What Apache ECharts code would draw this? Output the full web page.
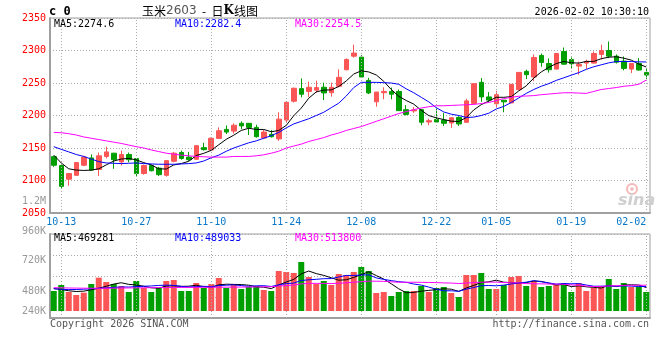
<!DOCTYPE html>
<html><head><meta charset="utf-8">
<script src="https://cdn.jsdelivr.net/npm/echarts@6/dist/echarts.min.js"></script>
<style>html,body{margin:0;padding:0;background:#fff}#c{width:660px;height:360px}</style>
</head><body><div id="c"></div>
<script>
// ---------- data ----------
const dates = ['2025-10-10','2025-10-13','2025-10-14','2025-10-15','2025-10-16','2025-10-17','2025-10-20','2025-10-21','2025-10-22','2025-10-23','2025-10-24','2025-10-27','2025-10-28','2025-10-29','2025-10-30','2025-10-31',
'2025-11-03','2025-11-04','2025-11-05','2025-11-06','2025-11-07','2025-11-10','2025-11-11','2025-11-12','2025-11-13','2025-11-14','2025-11-17','2025-11-18','2025-11-19','2025-11-20','2025-11-21','2025-11-24','2025-11-25','2025-11-26','2025-11-27','2025-11-28',
'2025-12-01','2025-12-02','2025-12-03','2025-12-04','2025-12-05','2025-12-08','2025-12-09','2025-12-10','2025-12-11','2025-12-12','2025-12-15','2025-12-16','2025-12-17','2025-12-18','2025-12-19','2025-12-22','2025-12-23','2025-12-24','2025-12-25','2025-12-26','2025-12-29','2025-12-30','2025-12-31',
'2026-01-05','2026-01-06','2026-01-07','2026-01-08','2026-01-09','2026-01-12','2026-01-13','2026-01-14','2026-01-15','2026-01-16','2026-01-19','2026-01-20','2026-01-21','2026-01-22','2026-01-23','2026-01-26','2026-01-27','2026-01-28','2026-01-29','2026-01-30','2026-02-02'];
const tickLabels = ['10-13','10-27','11-10','11-24','12-08','12-22','01-05','01-19','02-02'];

const openP = [2136.7,2123,2102,2108,2123.5,2134.7,2117,2137,2142,2128.6,
2140,2133.7,2110.7,2123,2119,2108,2129.6,2143,2136,2132.7,
2150.5,2147,2164.8,2178.6,2176,2188,2188,2181.7,2165.4,2171,
2164,2193,2222,2241.3,2237,2239,2243.4,2235,2245,2270.4,
2291.3,2289.8,2254,2221,2235,2237,2237,2209,2207,2209,
2190,2194,2192.9,2188.5,2197,2189.5,2218.6,2251,2228.6,2218,
2223.5,2219.4,2239.8,2267.9,2259.2,2292.4,2280,2271.4,2298.5,2286.2,
2276,2280.6,2280.6,2293.9,2300,2291.3,2283.7,2271.4,2280,2266.3];
const closeP = [2123.5,2091,2110.7,2127.6,2136,2116,2138,2144,2132,2140,
2132,2110.7,2123,2115,2109,2130.6,2142,2134,2132,2153.6,
2147.5,2165,2176.6,2174.5,2185,2184,2181.7,2167.4,2174.5,2167.4,
2194.4,2220.4,2241.9,2232.7,2243.4,2243,2234.7,2243.4,2258.7,2286.2,
2296,2259.2,2234.7,2236,2237,2232.7,2207.5,2201.7,2208.6,2189.6,
2192,2190,2188,2196.5,2187,2222.5,2249,2228.6,2223.7,2232,
2221,2248,2266.3,2262.8,2289.3,2281.6,2270.4,2295.4,2279,2279.6,
2278.6,2283.2,2295.4,2300,2291.3,2282,2272.5,2280,2270,2262.3];
const lowP = [2121,2088,2092,2107,2122,2115,2107,2134,2118,2123,
2128,2107,2109,2114,2107,2106,2128,2132,2130,2132,
2146,2146,2164,2171.5,2172,2179,2170,2166,2164,2166,
2161,2189,2220,2228,2228.6,2235,2223.7,2229,2243.6,2269.4,
2289,2258,2232.9,2213.5,2225,2225,2207,2200,2204,2185,
2185,2189,2184,2181,2184,2189,2218,2221,2220.6,2212,
2205,2219,2238.8,2256,2253,2275,2265.8,2271,2278,2272,
2262.8,2272,2280,2286,2288.3,2280,2269.4,2265.3,2269,2256];
const highP = [2138,2124,2111.5,2128.5,2138,2140,2143,2152,2142.5,2146,
2143,2134.5,2124.5,2124.5,2121,2131,2144,2146,2144,2154,
2158,2166,2181.7,2184.7,2188,2191,2188.5,2185.8,2177.6,2177.6,
2205,2221,2243,2257,2252,2253.6,2250.5,2250.5,2271,2287.8,
2309,2292.9,2258,2236.5,2243.4,2243,2240,2216,2213,2209.5,
2195,2210.5,2204,2197,2199,2225.7,2249.7,2257.6,2236,2238,
2224,2248.5,2266.8,2270.4,2293.9,2295.4,2287.8,2295.8,2304.6,2289.3,
2283,2286,2298.5,2309,2313.8,2293.9,2290.8,2280.5,2288.3,2272.5];

const ma5 = [2139,2127,2118,2116,2115.5,2116,2118,2124,2130,2133,
2134,2131.7,2127.5,2124.1,2117.9,2117.7,2123.9,2126.1,2129.5,2138.4,
2141.8,2146.4,2155,2163.4,2169.7,2177,2180.4,2178.5,2178.5,2175,
2177,2184.8,2199.7,2211.4,2226.6,2236.3,2239.1,2239.4,2244.6,2253.2,
2263.8,2268.7,2267,2262.4,2252.6,2240,2229.6,2223,2217.5,2208,
2199.9,2196.4,2193.7,2191.3,2190.7,2196.8,2208.6,2216.7,2222.2,2228,
2228,2229,2237.8,2245.6,2257.5,2267,2274.1,2279.9,2283.1,2281.2,
2280.6,2283.2,2283.2,2287.4,2289.7,2290.4,2288.2,2285.2,2279.2,2274.6];
const ma10 = [2152,2148,2144,2140,2137,2133,2129,2127,2126.5,2126,
2126.5,2127,2126,2125.5,2125,2125,2125,2125.5,2126,2127,
2130,2135,2139,2145,2150,2154,2158,2161,2165,2169,
2174,2181,2187,2191,2195,2200,2205,2212,2219,2230,
2243,2251,2251,2251,2250.5,2250,2248,2241,2235,2228,
2221,2212,2205.5,2202,2200,2197,2197.5,2200,2203.5,2210,
2214,2220,2227,2234,2240,2245,2249,2254,2258,2262,
2266,2271,2275,2278,2281,2283,2283,2283,2282.5,2282.4];
const ma30 = [2174,2173.5,2172,2170,2167,2165,2163,2161,2159,2157,
2154.5,2152,2150,2147,2144.5,2142,2140.5,2139,2138,2137,
2136.5,2136,2136,2136,2137,2137,2137,2138,2139.5,2142,
2145,2150,2153,2156,2160,2163,2166,2170,2173,2177,
2180,2183,2187,2191,2195,2199,2203,2206,2209,2211.5,
2213.5,2215,2215,2215.5,2216,2216.5,2217,2218.4,2220,2223,
2226,2228,2229.6,2230,2230.6,2232,2233,2234,2235,2235,
2234.5,2234,2237,2240,2241.5,2243,2245,2246,2248,2254.5];

// volume, in thousands of lots
const volume = [400,520,380,320,367,540,667,580,540,500,
380,600,460,380,460,600,620,400,400,560,
460,540,660,460,540,440,480,500,420,400,
800,780,760,980,680,540,600,520,740,720,
780,880,800,360,380,300,380,400,400,500,
380,460,480,360,280,720,720,760,440,440,
520,680,700,500,600,480,500,520,560,380,
560,400,460,500,640,440,560,480,480,380];
const volMa5 = [450,430,405,390,397,425,455,495,539,565,
533,520,496,464,456,500,504,492,496,516,
488,472,524,536,532,528,516,484,476,448,
520,580,632,744,800,748,712,664,616,624,
672,728,784,708,640,544,444,364,372,396,
412,428,444,436,392,460,512,568,584,616,
576,568,556,568,600,592,556,520,532,488,
504,484,472,460,512,488,520,524,520,469.281];
const volMa10 = [445,435,428,430,436,445,455,463,472,481,
479,487,495,501,511,517,512,494,480,486,
494,488,508,516,524,508,494,504,506,490,
524,548,558,610,624,634,646,648,680,712,
710,720,724,662,632,608,586,574,540,518,
478,436,404,404,394,436,470,506,510,504,
518,540,562,576,608,584,562,538,550,544,
548,520,496,496,500,496,502,498,490,489.033];
const volMa30 = [467,463,460,458,456,455,454,455,457,459,
461,463,465,467,468,469,470,471,472,473,
474,475,476,477,478,479,480,482,484,486,
499,508,520,542,553,553,551,549,555,563,
576,585,597,596,593,583,575,575,575,573,
571,568,562,559,550,559,567,576,577,578,
569,565,563,547,545,543,539,539,533,522,
515,499,487,492,501,505,511,514,517,513.8];
const volTickLabels = ['960K','720K','480K','240K'];

// ---------- chart ----------
const RED = '#fb5656', GREEN = '#009f00';
const MONO = '"DejaVu Sans Mono","Liberation Mono",monospace';
const GRAY = '#a0a0a0';
const dotted = {type:[1,2], color:'#aaaaaa', width:1};
const tickSet = new Set(tickLabels);
const isTick = (idx, val) => tickSet.has(String(val).slice(5));
const gridLineData = dates.filter(d => tickSet.has(d.slice(5))).map(d => ({xAxis: d}));

const chart = echarts.init(document.getElementById('c'));
const lineS = (data, color, xi, yi) => ({type:'line', xAxisIndex:xi, yAxisIndex:yi, data, symbol:'none',
  lineStyle:{color, width:1}, z:5, silent:true});

const txt = (text, x, y, fill, align, extra) => ({type:'text', x, y, silent:true, z:100,
  style:Object.assign({text, fill, font:'10px '+MONO, textAlign:align||'left', verticalAlign:'middle'}, extra||{})});

chart.setOption({
  animation:false,
  grid:[
    {left:50, top:18, width:600, height:195, show:true, borderColor:GRAY, borderWidth:1},
    {left:50, top:234, width:600, height:84, show:true, borderColor:GRAY, borderWidth:1}
  ],
  xAxis:[
    {type:'category', gridIndex:0, data:dates, boundaryGap:true,
     axisLine:{show:true, onZero:false, lineStyle:{color:GRAY, width:2}}, axisTick:{show:false},
     axisLabel:{interval:isTick, formatter:v => v.slice(5), color:'#0a78c8', fontFamily:MONO, fontSize:10, margin:4, alignMaxLabel:'right'},
     splitLine:{show:false}},
    {type:'category', gridIndex:1, data:dates, boundaryGap:true,
     axisLine:{show:true, onZero:false, lineStyle:{color:GRAY, width:2}}, axisTick:{show:false},
     axisLabel:{show:false}, splitLine:{show:false}}
  ],
  yAxis:[
    {type:'value', gridIndex:0, min:2050, max:2350, interval:50,
     axisLine:{show:true, lineStyle:{color:GRAY, width:2}}, axisTick:{show:false},
     axisLabel:{color:'#ff0000', fontFamily:MONO, fontSize:10, margin:4, formatter:v => String(v)},
     splitLine:{show:true, lineStyle:dotted}},
    {type:'value', gridIndex:1, min:-140, max:1540,
     axisLine:{show:true, lineStyle:{color:GRAY, width:2}}, axisTick:{show:false},
     axisLabel:{show:false}, splitLine:{show:false}},
    {type:'value', gridIndex:1, min:0, max:4, interval:1, position:'left',
     axisLine:{show:false}, axisTick:{show:false}, axisLabel:{show:false},
     splitLine:{show:true, lineStyle:dotted}}
  ],
  series:[
    {type:'line', xAxisIndex:0, yAxisIndex:0, data:[], z:1, silent:true,
     markLine:{silent:true, symbol:['none','none'], label:{show:false}, lineStyle:dotted, data:gridLineData}},
    {type:'line', xAxisIndex:1, yAxisIndex:1, data:[], z:1, silent:true,
     markLine:{silent:true, symbol:['none','none'], label:{show:false}, lineStyle:dotted, data:gridLineData}},
    {type:'candlestick', xAxisIndex:0, yAxisIndex:0, z:3, barWidth:5,
     data:dates.map((d,i) => [openP[i], closeP[i], lowP[i], highP[i]]),
     itemStyle:{color:RED, color0:GREEN, borderColor:RED, borderColor0:GREEN, borderWidth:1}},
    lineS(ma5, '#000000', 0, 0),
    lineS(ma10, '#0000ff', 0, 0),
    lineS(ma30, '#ff00ff', 0, 0),
    {type:'bar', xAxisIndex:1, yAxisIndex:1, z:3, barWidth:6,
     data:volume.map((v,i) => ({value:v, itemStyle:{color: closeP[i] >= openP[i] ? RED : GREEN}}))},
    lineS(volMa5, '#000000', 1, 1),
    lineS(volMa10, '#0000ff', 1, 1),
    lineS(volMa30, '#ff00ff', 1, 1)
  ],
  graphic:[
    txt('c 0', 49, 12, '#000', 'left', {font:'bold 12px '+MONO}),
    {type:'text', x:200, y:11, silent:true, z:100, style:{
      text:'{a|玉米}{b|2603}{a|  -  日}{k|K}{a|线图}', textAlign:'center', verticalAlign:'middle',
      rich:{a:{font:'12px "Noto Sans CJK SC"', fill:'#000'}, b:{font:'12px "DejaVu Sans"', fill:'#555'},
            k:{font:'bold 12px "DejaVu Serif"', fill:'#000'}}}},
    txt('2026-02-02 10:30:10', 649, 12, '#000', 'right'),
    txt('MA5:' + ma5[ma5.length-1].toFixed(1), 54, 24, '#000'),
    txt('MA10:' + ma10[ma10.length-1].toFixed(1), 175, 24, '#0000ff'),
    txt('MA30:' + ma30[ma30.length-1].toFixed(1), 295, 24, '#ff00ff'),
    txt('1.2M', 46, 201, '#999', 'right'),
    txt(volTickLabels[0], 46, 231, '#999', 'right'),
    txt(volTickLabels[1], 46, 260, '#999', 'right'),
    txt(volTickLabels[2], 46, 291, '#999', 'right'),
    txt(volTickLabels[3], 46, 311, '#999', 'right'),
    txt('MA5:' + Math.round(volMa5[volMa5.length-1]*1000), 54, 238, '#000'),
    txt('MA10:' + Math.round(volMa10[volMa10.length-1]*1000), 175, 238, '#0000ff'),
    txt('MA30:' + Math.round(volMa30[volMa30.length-1]*1000), 295, 238, '#ff00ff'),
    txt('Copyright 2026 SINA.COM', 50, 324, '#555'),
    txt('http://finance.sina.com.cn', 649, 324, '#555', 'right'),
    {type:'circle', silent:true, z:0, shape:{cx:632, cy:189, r:5}, style:{fill:'none', stroke:'#f5b8b8', lineWidth:2}},
    {type:'circle', silent:true, z:0, shape:{cx:632, cy:189, r:1.8}, style:{fill:'#f5b8b8'}},
    txt('sina', 618, 201, '#cfcfcf', 'left', {font:'italic bold 16px "DejaVu Sans"'})
  ]
});
</script>
</body></html>
